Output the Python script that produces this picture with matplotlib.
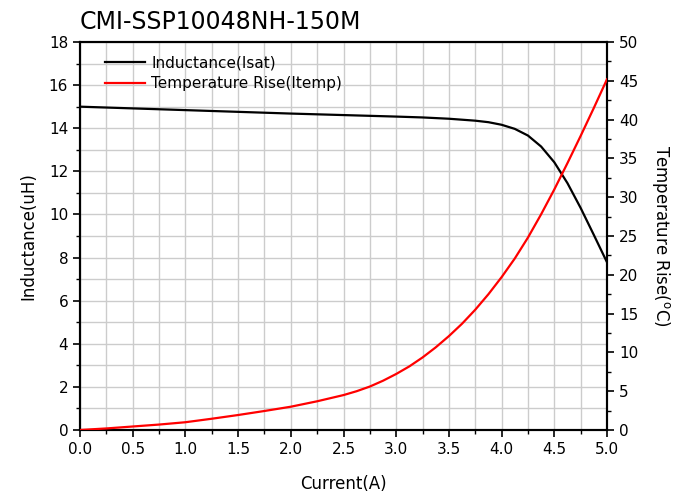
import matplotlib.pyplot as plt
from matplotlib.ticker import MultipleLocator
from matplotlib.lines import Line2D

# inductance curve (Isat), uH
ind_current = [0.0, 0.5, 1.0, 1.5, 2.0, 2.5, 3.0, 3.25, 3.5, 3.75, 3.875, 4.0, 4.125,
               4.25, 4.375, 4.5, 4.625, 4.75, 4.875, 5.0]
inductance = [15.0, 14.92, 14.84, 14.76, 14.68, 14.61, 14.54, 14.5, 14.44, 14.35, 14.28, 14.16, 13.97,
              13.66, 13.15, 12.42, 11.45, 10.3, 9.05, 7.78]

# temperature rise curve (Itemp), degC
temp_current = [0.0, 0.25, 0.5, 0.75, 1.0, 1.25, 1.5, 1.75, 2.0, 2.25, 2.5, 2.625, 2.75,
                2.875, 3.0, 3.125, 3.25, 3.375, 3.5, 3.625, 3.75, 3.875, 4.0, 4.125, 4.25,
                4.375, 4.5, 4.625, 4.75, 4.875, 5.0]
temp_rise = [0.0, 0.2, 0.45, 0.7, 1.0, 1.45, 1.93, 2.45, 3.0, 3.7, 4.5, 5.0, 5.6,
             6.35, 7.22, 8.2, 9.35, 10.65, 12.1, 13.7, 15.5, 17.5, 19.7, 22.1, 24.8,
             27.8, 31.0, 34.4, 37.9, 41.5, 45.2]

plt.rcParams['font.family'] = ['DejaVu Sans']

fig = plt.figure(figsize=(6.89, 4.93), dpi=100)
ax = fig.add_axes([0.1161, 0.1278, 0.7649, 0.787])
ax2 = ax.twinx()

ax.plot(ind_current, inductance, color='black', lw=1.6, zorder=3, solid_joinstyle='round')
ax2.plot(temp_current, temp_rise, color='red', lw=1.6, zorder=3, solid_joinstyle='round')

ax.set_xlim(0, 5)
ax.set_ylim(0, 18)
ax2.set_ylim(0, 50)

ax.xaxis.set_major_locator(MultipleLocator(0.5))
ax.xaxis.set_minor_locator(MultipleLocator(0.25))
ax.yaxis.set_major_locator(MultipleLocator(2))
ax.yaxis.set_minor_locator(MultipleLocator(1))
ax2.yaxis.set_major_locator(MultipleLocator(5))
ax2.yaxis.set_minor_locator(MultipleLocator(2.5))
ax.xaxis.set_major_formatter(plt.FormatStrFormatter('%.1f'))

ax.grid(which='both', color='#cccccc', lw=1.0)
ax.set_axisbelow(True)

for a in (ax, ax2):
    a.tick_params(which='major', direction='out', length=5, width=1.2, labelsize=11)
    a.tick_params(which='minor', direction='out', length=3, width=1.0)
    for s in a.spines.values():
        s.set_linewidth(1.5)

ax.set_xlabel('Current(A)', fontsize=12, labelpad=13)
ax.set_ylabel('Inductance(uH)', fontsize=12, labelpad=8)
ax2.set_ylabel(r'Temperature Rise($^{\rm o}$C)', fontsize=12, rotation=270, labelpad=24)

fig.text(80 / 689, 1 - 22 / 493, 'CMI-SSP10048NH-150M', fontsize=17, ha='left', va='center')

handles = [Line2D([], [], color='black', lw=1.6), Line2D([], [], color='red', lw=1.6)]
ax.legend(handles, ['Inductance(Isat)', 'Temperature Rise(Itemp)'], loc='upper left',
          bbox_to_anchor=(0.022, 1.0), frameon=False, fontsize=11,
          handlelength=2.6, handletextpad=0.4, labelspacing=0.35)

fig.savefig('out.png', dpi=100)
